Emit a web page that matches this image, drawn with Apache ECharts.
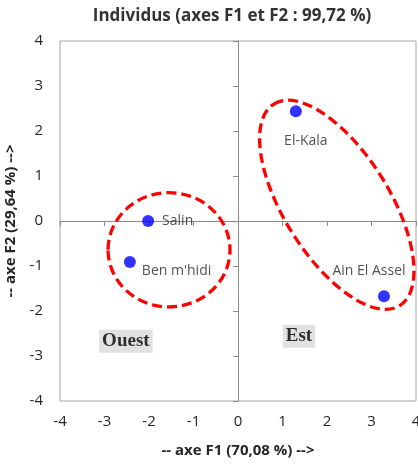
<!DOCTYPE html>
<html>
<head>
<meta charset="utf-8">
<script src="https://cdn.jsdelivr.net/npm/echarts@6/dist/echarts.min.js"></script>
<style>html,body{margin:0;padding:0;background:#fff}#c{width:418px;height:465px}</style>
</head>
<body>
<div id="c"></div>
<script>
// ---- data ----
const pointNames = ['Salin', "Ben m'hidi", 'El-Kala', 'Ain El Assel'];
const pointF1 = [-2.02, -2.43, 1.30, 3.28];
const pointF2 = [0.00, -0.91, 2.44, -1.67];
const tickValues = [-4, -3, -2, -1, 0, 1, 2, 3, 4];
const groupNames = ['Ouest', 'Est'];
const groupF1 = [-2.52, 1.37];
const groupF2 = [-2.67, -2.56];
// ellipses: [centerF1, centerF2, semiAxisA, semiAxisB, clockwiseTiltDeg]
const groupEllipses = [
  [-1.55, -0.64, 1.37, 1.27, 0],
  [2.22, 0.36, 2.67, 1.17, 58]
];
const titleText = 'Individus (axes F1 et F2 : 99,72 %)';
const xAxisName = '-- axe F1 (70,08 %) -->';
const yAxisName = '-- axe F2 (29,64 %) -->';

// ---- styles (label offsets in px) ----
const labelOffsets = [[14, 0], [12, 9], [10, 30], [-15, -25]];
const labelAligns = ['left', 'left', 'center', 'center'];

const FONT = '"Open Sans", Lato, sans-serif';
const txt = '#262626';
const axisGray = '#8c8c8c';

const chart = echarts.init(document.getElementById('c'), null, {renderer: 'canvas'});

const pointData = pointNames.map((n, i) => ({
  name: n,
  value: [pointF1[i], pointF2[i]],
  label: {
    show: true,
    formatter: n,
    position: labelAligns[i] === 'left' ? 'right' : 'inside',
    offset: labelAligns[i] === 'left' ? [labelOffsets[i][0] - 10, labelOffsets[i][1]] : labelOffsets[i],
    distance: 4
  }
}));

const groupData = groupNames.map((n, i) => ({name: n, value: [groupF1[i], groupF2[i]]}));

const baseAxis = {
  type: 'value', min: -4, max: 4, interval: 1,
  splitLine: {show: false}
};

chart.setOption({
  animation: false,
  title: {
    text: titleText, left: 227, textAlign: 'center', top: 3,
    textStyle: {fontFamily: FONT, fontSize: 17, fontWeight: 'bold', color: '#333'}
  },
  grid: {left: 60, top: 41, right: 2, bottom: 64, show: true, borderColor: '#a6a6a6', borderWidth: 1,
    containLabel: false, outerBoundsMode: 'none'},
  xAxis: [
    Object.assign({}, baseAxis, {
      position: 'bottom',
      axisLine: {show: false, onZero: false},
      axisTick: {show: false},
      axisLabel: {margin: 13, color: txt, fontSize: 15, fontFamily: FONT,
        customValues: tickValues},
      name: xAxisName, nameLocation: 'middle', nameGap: 42,
      nameTextStyle: {fontFamily: FONT, fontSize: 15, fontWeight: 'bold', color: txt}
    }),
    Object.assign({}, baseAxis, {
      position: 'bottom',
      axisLine: {show: true, onZero: true, onZeroAxisIndex: 0, lineStyle: {color: axisGray, width: 1}},
      axisTick: {show: true, length: 5, lineStyle: {color: axisGray}},
      axisLabel: {show: false}
    })
  ],
  yAxis: [
    Object.assign({}, baseAxis, {
      position: 'left',
      axisLine: {show: false, onZero: false},
      axisTick: {show: false},
      axisLabel: {margin: 17, color: txt, fontSize: 15, fontFamily: FONT,
        customValues: tickValues},
      name: yAxisName, nameLocation: 'middle', nameGap: 39, nameRotate: 90,
      nameTextStyle: {fontFamily: FONT, fontSize: 15, fontWeight: 'bold', color: txt}
    }),
    Object.assign({}, baseAxis, {
      position: 'left',
      axisLine: {show: true, onZero: true, onZeroAxisIndex: 0, lineStyle: {color: axisGray, width: 1}},
      axisTick: {show: true, length: 5, lineStyle: {color: axisGray}},
      axisLabel: {show: false}
    })
  ],
  series: [
    {
      type: 'custom',
      xAxisIndex: 0, yAxisIndex: 0,
      data: groupEllipses,
      silent: true,
      z: 3,
      renderItem: function (params, api) {
        const c = api.coord([api.value(0), api.value(1)]);
        const s = api.size([api.value(2), api.value(3)]);
        return {
          type: 'ellipse',
          x: c[0], y: c[1],
          rotation: -api.value(4) * Math.PI / 180,
          shape: {cx: 0, cy: 0, rx: s[0], ry: s[1]},
          style: {fill: 'none', stroke: '#ff0000', lineWidth: 3.3, lineDash: [10, 5]}
        };
      }
    },
    {
      type: 'scatter',
      xAxisIndex: 0, yAxisIndex: 0,
      symbol: 'circle', symbolSize: 12,
      itemStyle: {color: '#0000ff'},
      z: 5,
      label: {color: txt, fontFamily: FONT, fontSize: 14},
      data: pointData
    },
    {
      type: 'scatter',
      xAxisIndex: 0, yAxisIndex: 0,
      symbolSize: 0,
      z: 4,
      label: {
        show: true, position: 'inside', formatter: '{b}',
        fontFamily: '"Liberation Serif", "DejaVu Serif", serif', fontWeight: 'bold', fontSize: 19,
        color: '#000', backgroundColor: '#d9d9d9', padding: [3, 3, 1, 3]
      },
      data: groupData
    }
  ]
});
</script>
</body>
</html>
